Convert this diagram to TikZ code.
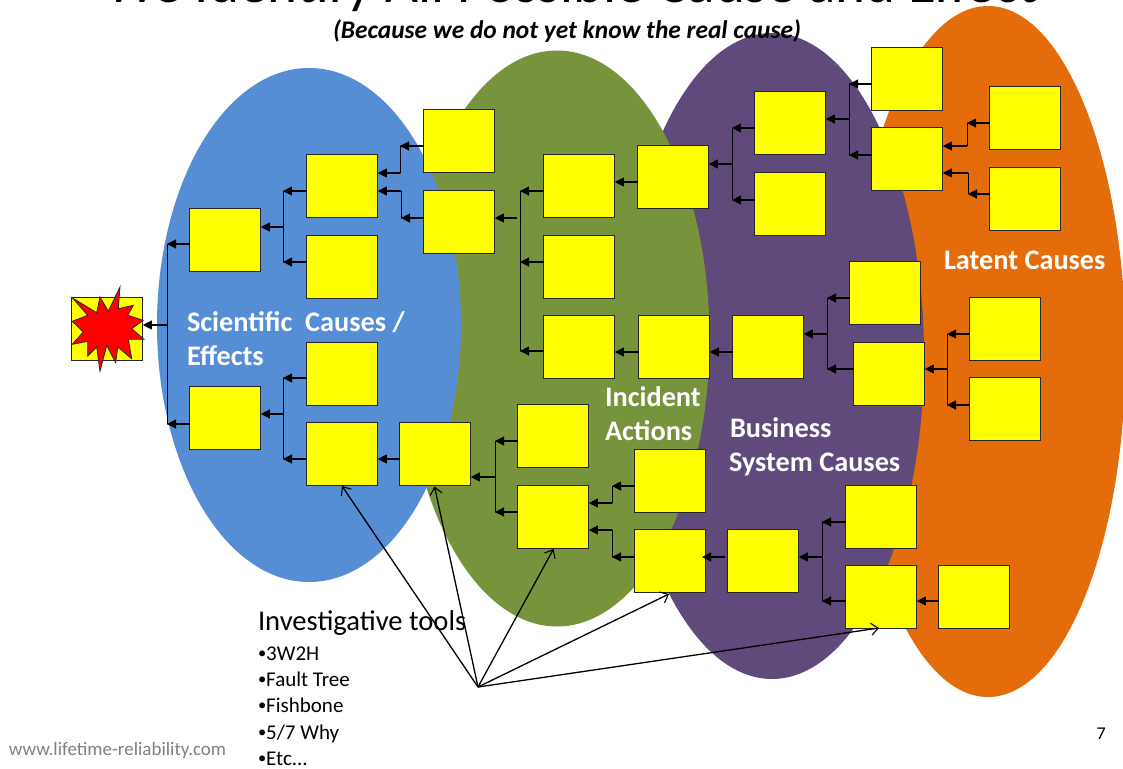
\documentclass[tikz,border=0pt]{standalone}
\usepackage{fontspec}
\setmainfont{Carlito}
\usetikzlibrary{arrows.meta}
\definecolor{blueE}{HTML}{558ED5}
\definecolor{greenE}{HTML}{77933C}
\definecolor{purpleE}{HTML}{604A7B}
\definecolor{orangeE}{HTML}{E46C0A}
\definecolor{boxY}{HTML}{FFFF00}
\tikzset{
  cbox/.style={draw=black!85,fill=boxY,line width=1.1pt,minimum width=71pt,minimum height=63pt,inner sep=0pt,outer sep=0pt},
  arr/.style={line width=1.1pt,-{Triangle[length=9pt,width=9pt]}},
  bar/.style={line width=1pt,line cap=round},
  tool/.style={line width=1.3pt,-{Straight Barb[length=7pt,width=12pt,line width=1.1pt]}},
  lab/.style={anchor=base west,inner sep=0pt,outer sep=0pt,text=white,font=\bfseries\fontsize{28.3}{33}\selectfont},
  txt/.style={anchor=base west,inner sep=0pt,outer sep=0pt,text=black},
  item/.style={txt,font=\fontsize{21}{25}\selectfont},
}
\newcommand{\bul}{{\fontsize{16.5}{20}\selectfont\raisebox{1.5pt}{•}}}
\newcommand{\bx}[3]{\node[cbox] (#1) at (#2+35.3,#3+31.3) {};}
% bus: name, x, y of junction, top, bottom
\newcommand{\busline}[5]{\coordinate (#1) at (#2,#3);\draw[bar] (#1 |- 0,#4) -- (#1 |- 0,#5);}
\newcommand{\feed}[3]{\draw[arr] (#1.west |- 0,#3) -- (#2 |- 0,#3);}
\begin{document}
\begin{tikzpicture}[x=1pt,y=-1pt]
\useasboundingbox (0,0) rectangle (1123,768);
\clip (0,0) rectangle (1123,768);
\fill[orangeE] (988,351.5) ellipse [x radius=137.6,y radius=345.5];
\fill[purpleE] (772,356) ellipse [x radius=152,y radius=323];
\fill[greenE] (557,338.5) ellipse [x radius=152.5,y radius=288];
\fill[blueE] (309,325) ellipse [x radius=152,y radius=257];
\node[txt,font=\fontsize{57}{66}\selectfont] (title) at (105,2.5) {We Identify All Possible Cause and Effect};
\node[txt,font=\bfseries\itshape\fontsize{25.4}{30}\selectfont] (sub) at (333,39) {(Because we do not yet know the real cause)};
\bx{ev}{72}{298}
\bx{a}{190}{209}\bx{b}{190}{387}
\bx{c}{307}{155}\bx{d}{307}{236}\bx{e}{307}{343}\bx{f}{307}{423}
\bx{g}{424}{110}\bx{h}{424}{191}
\bx{i}{544}{155}\bx{j}{544}{236}\bx{k}{544}{316}
\bx{l}{638}{146}\bx{m}{639}{316}
\bx{n}{755}{92}\bx{o}{755}{173}
\bx{p}{872}{48}\bx{q}{872}{128}
\bx{r}{990}{87}\bx{s}{990}{168}
\bx{t}{733}{316}\bx{u}{850}{262}\bx{v}{854}{343}
\bx{w}{970}{298}\bx{x}{970}{378}
\bx{y}{400}{423}\bx{z}{518}{405}\bx{aa}{518}{486}
\bx{ab}{635}{450}\bx{ac}{635}{530}\bx{ad}{728}{530}
\bx{ae}{846}{486}\bx{af}{846}{566}\bx{ag}{939}{566}
\draw[fill=red,draw=black!85,line width=0.8pt,line join=miter] (72.5,298) -- (96.7,312.7) -- (100,297) -- (108.3,311.3) -- (120,287) -- (118.3,308.7) -- (133.3,305.3) -- (127.7,315.3) -- (143.3,320.3) -- (131.7,328.7) -- (144,339.3) -- (128.3,339.3) -- (131.7,358.7) -- (117.7,347) -- (115.7,362.7) -- (106.7,345.3) -- (100,371.3) -- (96.7,347) -- (87.7,356) -- (87.7,341.3) -- (72.3,344.3) -- (83.3,332) -- (72.3,321.3) -- (87.7,315.3) -- cycle;
% buses
\busline{b0}{167}{325}{244}{424}
\draw[arr] (b0) -- (ev.east |- b0);
\feed{a}{b0}{244}\feed{b}{b0}{424}
\busline{b1}{283}{227}{191}{262}
\draw[arr] (b1) -- (a.east |- b1);
\feed{c}{b1}{191}\feed{d}{b1}{262}
\busline{b2}{283}{414}{378}{459}
\draw[arr] (b2) -- (b.east |- b2);
\feed{e}{b2}{378}\feed{f}{b2}{459}
\coordinate (kg) at (400,146);\coordinate (kh) at (401,218);
\draw[bar] (kg) -- (kg |- 0,173);
\draw[arr] (g.west |- kg) -- (kg);
\draw[arr] (kg |- 0,173) -- (c.east |- 0,173);
\draw[bar] (kh) -- (kh |- 0,191);
\draw[arr] (h.west |- kh) -- (kh);
\draw[arr] (kh |- 0,191) -- (c.east |- 0,191);
\busline{b3}{520}{218}{191}{351}
\coordinate (b3g) at (517,218);
\draw[arr] (b3g) -- (h.east |- b3g);
\feed{i}{b3}{191}\feed{j}{b3}{262}\feed{k}{b3}{351}
\draw[arr] (l.west |- 0,182) -- (i.east |- 0,182);
\draw[arr] (m.west |- 0,352) -- (k.east |- 0,352);
\busline{b4}{732}{164}{128}{200}
\draw[arr] (b4) -- (l.east |- b4);
\feed{n}{b4}{128}\feed{o}{b4}{200}
\busline{b5}{849}{119}{84}{155}
\draw[arr] (b5) -- (n.east |- b5);
\feed{p}{b5}{84}\feed{q}{b5}{155}
\coordinate (kr) at (967,123);\coordinate (ks) at (968,194);
\draw[bar] (kr) -- (kr |- 0,146);
\draw[arr] (r.west |- kr) -- (kr);
\draw[arr] (kr |- 0,146) -- (q.east |- 0,146);
\draw[bar] (ks) -- (ks |- 0,173);
\draw[arr] (s.west |- ks) -- (ks);
\draw[arr] (ks |- 0,173) -- (q.east |- 0,173);
\draw[arr] (t.west |- 0,352) -- (m.east |- 0,352);
\busline{b6}{827}{334}{298}{369}
\draw[arr] (b6) -- (t.east |- b6);
\feed{u}{b6}{298}\feed{v}{b6}{369}
\busline{b7}{947}{369}{334}{405}
\draw[arr] (b7) -- (v.east |- b7);
\feed{w}{b7}{334}\feed{x}{b7}{405}
\draw[arr] (y.west |- 0,459) -- (f.east |- 0,459);
\busline{b8}{495}{477}{441}{512}
\draw[arr] (b8) -- (y.east |- b8);
\feed{z}{b8}{441}\feed{aa}{b8}{512}
\coordinate (kab) at (612,486);\coordinate (kac) at (612,557);
\draw[bar] (kab) -- (kab |- 0,503);
\draw[arr] (kab |- 0,503) -- (aa.east |- 0,503);
\draw[arr] (ab.west |- kab) -- (kab);
\draw[bar] (kac) -- (kac |- 0,530);
\draw[arr] (kac |- 0,530) -- (aa.east |- 0,530);
\draw[arr] (ac.west |- kac) -- (kac);
\coordinate (kad) at (725,557);
\coordinate (kae) at (702,557);
\draw[arr] (kad) -- (kae);
\busline{b9}{822}{557}{522}{601}
\draw[arr] (b9) -- (ad.east |- b9);
\feed{ae}{b9}{522}\feed{af}{b9}{601}
\draw[arr] (ag.west |- 0,601) -- (af.east |- 0,601);
% labels
\node[lab] (l1) at (187,331) {Scientific\ \ Causes /};
\node[lab] (l2) at (187,365) {Effects};
\node[lab] (l3) at (944,269) {Latent Causes};
\node[lab] (l4) at (605,406) {Incident};
\node[lab] (l5) at (605,440) {Actions};
\node[lab] (l6) at (730,437) {Business};
\node[lab] (l7) at (729,471) {System Causes};
\node[txt,font=\fontsize{28.6}{33}\selectfont] (tt) at (258,630) {Investigative tools};
\node[item] (t1) at (258,660) {\bul3W2H};
\node[item] (t2) at (258,686) {\bul Fault Tree};
\node[item] (t3) at (258,712) {\bul Fishbone};
\node[item] (t4) at (258,739) {\bul5/7 Why};
\node[item] (t5) at (258,765) {\bul Etc...};
\node[txt,text=black!50,font=\fontsize{19}{23}\selectfont] (web) at (9,755) {www.lifetime-reliability.com};
\node[txt,font=\fontsize{18}{22}\selectfont] (num) at (1096.5,739) {7};
% tool arrows
\coordinate (hub) at (478,687);
\coordinate (t1e) at (342,486);
\coordinate (t2e) at (434.5,486.5);
\coordinate (t3e) at (553.5,549);
\coordinate (t4e) at (669,594);
\coordinate (t5e) at (879,628);
\draw[tool] (hub) -- (t1e);
\draw[tool] (hub) -- (t2e);
\draw[tool] (hub) -- (t3e);
\draw[tool] (hub) -- (t4e);
\draw[tool] (hub) -- (t5e);
\end{tikzpicture}
\end{document}
